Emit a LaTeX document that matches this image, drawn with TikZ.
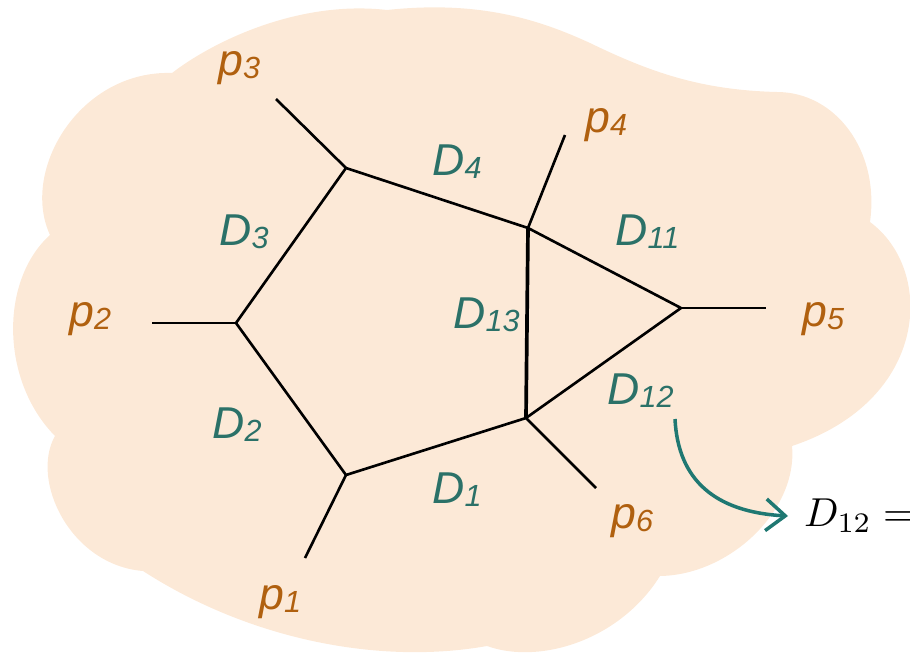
\documentclass[tikz,border=0pt]{standalone}
\usepackage{graphicx}
\usepackage[no-math]{fontspec}
\newfontfamily\labfont{Liberation Sans}
\usetikzlibrary{arrows.meta}
\definecolor{cloudfill}{HTML}{FCE9D7}
\definecolor{dteal}{HTML}{2B7168}
\definecolor{pbrown}{HTML}{B0600F}
\definecolor{arrteal}{HTML}{1F7872}
\newcommand\sublab[2]{#1\raisebox{-1.9pt}{\fontsize{17.4}{18}\selectfont #2}}
\tikzset{
  edge/.style={line width=1.5pt, black, line join=round},
  thickedge/.style={line width=2.1pt, black},
  dlab/.style={text=dteal, font=\labfont\itshape\fontsize{25.4}{30}\selectfont, anchor=base west, inner sep=0pt},
  plab/.style={dlab, text=pbrown},
  eqlab/.style={text=black, anchor=west, inner sep=9pt},
  callout/.style={arrteal, line width=2pt, -{Straight Barb[length=11pt,width=18pt]}}
}
\begin{document}
\begin{tikzpicture}[x=0.02cm, y=-0.02cm]
\useasboundingbox (0,0) rectangle (910,663);
\clip (0,0) rectangle (910,663);
% cloud
\fill[cloudfill] (172,73) .. controls (215,40) and (300,0) .. (387,10)
  .. controls (480,0) and (540,20) .. (590,43)
  .. controls (650,72) and (700,90) .. (777,92)
  .. controls (835,92) and (880,150) .. (870,222)
  .. controls (935,270) and (930,400) .. (792,446)
  .. controls (798,510) and (730,575) .. (660,576)
  .. controls (620,640) and (540,665) .. (487,646)
  .. controls (380,665) and (250,640) .. (143,571)
  .. controls (70,565) and (30,480) .. (55,436)
  .. controls (0,380) and (0,280) .. (50,235)
  .. controls (20,170) and (80,70) .. (172,73) -- cycle;
% vertices
\coordinate (A) at (346,168);
\coordinate (B) at (236,323);
\coordinate (C) at (346,475);
\coordinate (E) at (526,418);
\coordinate (F) at (528,228);
\coordinate (G) at (681,308);
% leg ends
\coordinate (l3) at (276,99);
\coordinate (l2) at (152,323);
\coordinate (l1) at (305,558);
\coordinate (l6) at (596,488);
\coordinate (l4) at (565,135);
\coordinate (l5) at (766,308);
% graph
\draw[edge] (B) -- (A) -- (F) -- (G) -- (E) -- (C) -- cycle;
\draw[thickedge] (F) -- (E);
\draw[edge] (A) -- (l3);
\draw[edge] (B) -- (l2);
\draw[edge] (C) -- (l1);
\draw[edge] (E) -- (l6);
\draw[edge] (F) -- (l4);
\draw[edge] (G) -- (l5);
% labels
\node[plab] (p3) at (218,75) {\sublab{p}{3}};
\node[plab] (p2) at (69,326) {\sublab{p}{2}};
\node[plab] (p4) at (585,132) {\sublab{p}{4}};
\node[plab] (p5) at (802,326) {\sublab{p}{5}};
\node[plab] (p1) at (259,609) {\sublab{p}{1}};
\node[plab] (p6) at (611,528) {\sublab{p}{6}};
\node[dlab] (d3) at (219,245) {\sublab{D}{3}};
\node[dlab] (d4) at (432,175) {\sublab{D}{4}};
\node[dlab] (d11) at (615,245) {\sublab{D}{11}};
\node[dlab] (d13) at (453,328) {\sublab{D}{13}};
\node[dlab] (d12) at (607,404) {\sublab{D}{12}};
\node[dlab] (d2) at (212,438) {\sublab{D}{2}};
\node[dlab] (d1) at (432,503) {\sublab{D}{1}};
% callout
\node[eqlab] (eq) at (788,516) {\scalebox{2.3}{$D_{12} =$}};
\coordinate (arrs) at (675,419);
\draw[callout] (arrs) .. controls (678,480) and (715,512) .. (eq.west);
\end{tikzpicture}
\end{document}
